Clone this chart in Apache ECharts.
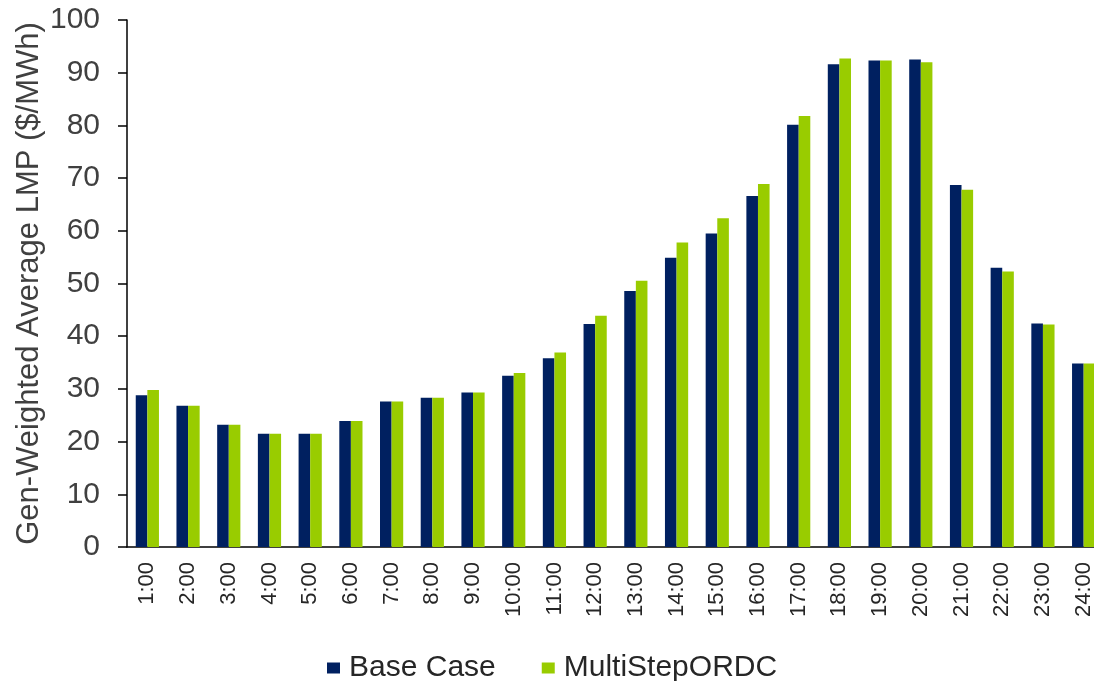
<!DOCTYPE html>
<html><head><meta charset="utf-8">
<script src="https://cdn.jsdelivr.net/npm/echarts@6/dist/echarts.min.js"></script>
<style>html,body{margin:0;padding:0;background:#fff;overflow:hidden;width:1094px;height:681px;}#c{width:1104px;height:681px;}</style>
</head><body><div id="c"></div>
<script>
const hours = ["1:00","2:00","3:00","4:00","5:00","6:00","7:00","8:00","9:00","10:00","11:00","12:00","13:00","14:00","15:00","16:00","17:00","18:00","19:00","20:00","21:00","22:00","23:00","24:00"];
const baseCase = [28.8,26.8,23.2,21.5,21.5,23.9,27.6,28.3,29.3,32.5,35.8,42.3,48.6,54.9,59.5,66.6,80.1,91.6,92.3,92.5,68.7,53.0,42.4,34.8];
const multiStep = [29.8,26.8,23.2,21.5,21.5,23.9,27.6,28.3,29.3,33.0,36.9,43.9,50.5,57.8,62.4,68.9,81.8,92.7,92.3,92.0,67.8,52.3,42.2,34.8];
const yTicks = {min:0, max:100, interval:10};
const seriesNames = ["Base Case","MultiStepORDC"];

const chart = echarts.init(document.getElementById('c'));
const font = 'Liberation Sans, Arial, sans-serif';
chart.setOption({
  animation:false,
  textStyle:{fontFamily:font},
  grid:{left:127, top:20, right:0, height:527, containLabel:false},
  legend:{
    data:seriesNames, top:648, left:322, itemWidth:13, itemHeight:11, itemGap:46,
    icon:'rect', textStyle:{fontSize:30, color:'#262626', fontFamily:font, padding:[0,0,0,4]}
  },
  xAxis:{
    type:'category', data:hours,
    axisLine:{lineStyle:{color:'#000', width:1.5}},
    axisTick:{show:false},
    axisLabel:{rotate:90, fontSize:22, color:'#262626', margin:15, interval:0, fontFamily:font}
  },
  yAxis:{
    type:'value', min:yTicks.min, max:yTicks.max, interval:yTicks.interval,
    name:'Gen-Weighted Average LMP ($/MWh)', nameLocation:'middle', nameGap:82, nameMoveOverlap:false,
    nameTextStyle:{fontSize:31, color:'#404040', fontFamily:font},
    axisLine:{show:true, lineStyle:{color:'#000', width:1.5}},
    axisTick:{show:true, length:9, lineStyle:{color:'#000', width:1.5}},
    splitLine:{show:false},
    axisLabel:{fontSize:30, color:'#404040', margin:27, fontFamily:font}
  },
  series:[
    {name:seriesNames[0], type:'bar', data:baseCase, itemStyle:{color:'#002060'}, barGap:'0%', barCategoryGap:'43%'},
    {name:seriesNames[1], type:'bar', data:multiStep, itemStyle:{color:'#99CC00'}, barGap:'0%', barCategoryGap:'43%'}
  ]
});
</script></body></html>
